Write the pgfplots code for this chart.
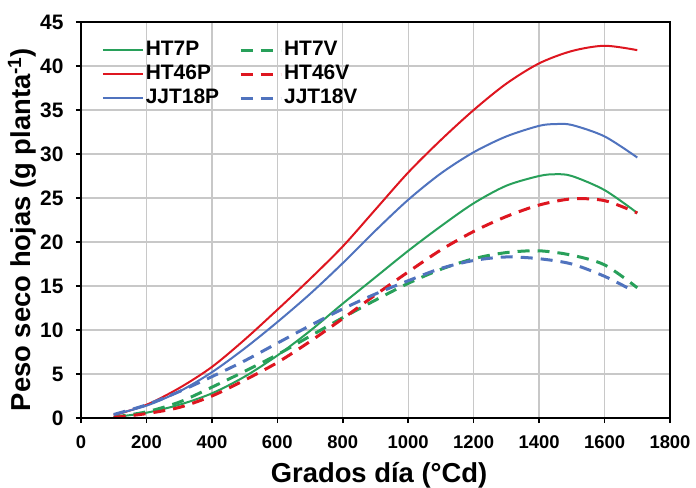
\documentclass[border=0pt]{standalone}
\usepackage{pgfplots}
\pgfplotsset{compat=1.18}
\usepackage{fontspec}
\setmainfont{Liberation Sans}
\definecolor{cgreen}{RGB}{40,160,90}
\definecolor{cred}{RGB}{222,22,32}
\definecolor{cblue}{RGB}{80,115,190}
\definecolor{cgrid}{RGB}{200,200,200}
\begin{document}
\begin{tikzpicture}
\path[use as bounding box] (-81bp,-70bp) rectangle (615bp,418bp);
\begin{axis}[
  at={(0,0)}, anchor=south west,
  scale only axis, width=589bp, height=396bp,
  xmin=0, xmax=1800, ymin=0, ymax=45,
  xtick={0,200,...,1800}, ytick={0,5,...,45},
  xmajorgrids=true, ymajorgrids=true,
  grid style={draw=cgrid, line width=1.3bp},
  axis lines=box,
  tick pos=left, tick align=outside, major tick length=5bp,
  tick style={black, line width=1.5bp},
  axis line style={draw=black, line width=1.6bp},
  /pgf/number format/assume math mode=true,
  /pgf/number format/set thousands separator={},
  xticklabel style={font=\fontsize{18.5}{20}\selectfont\bfseries, yshift=-9bp},
  yticklabel style={font=\fontsize{21}{22}\selectfont\bfseries, xshift=-9bp},
  xlabel={Grados día (°Cd)},
  ylabel={Peso seco hojas (g planta\textsuperscript{-1})},
  xlabel style={font=\fontsize{27.5}{29}\selectfont\bfseries, at={(axis description cs:0.506,0)}, anchor=base, yshift=-64bp},
  ylabel style={font=\fontsize{27.5}{29}\selectfont\bfseries, at={(axis description cs:-0.1002,0.476)}, anchor=center},
  legend columns=2,
  legend cell align=left,
  legend style={draw=none, fill=none, at={(axis description cs:0.03,0.965)}, anchor=north west,
    font=\fontsize{21}{22}\selectfont\bfseries,
    nodes={inner sep=2bp, text height=15bp, text depth=4bp}, row sep=1bp,
    /tikz/every even column/.style={column sep=18bp}},
  legend image code/.code={\draw[#1] (0bp,-0.5bp) -- (40bp,-0.5bp);},
]
\addplot[draw=cgreen, line width=2bp, smooth, tension=0.5] coordinates {
(100,0.1)(200,0.6)(300,1.5)(400,2.8)(500,4.7)(600,7.1)(700,9.9)(800,13.0)(900,16.0)(1000,19.0)(1100,21.8)(1200,24.4)(1300,26.4)(1400,27.5)(1450,27.7)(1500,27.5)(1600,25.9)(1700,23.3)};
\addlegendentry{HT7P}
\addplot[draw=cgreen, line width=3bp, dash pattern=on 12bp off 8bp, smooth, tension=0.5] coordinates {
(100,0.1)(200,0.7)(300,1.8)(400,3.5)(500,5.3)(600,7.2)(700,9.3)(800,11.4)(900,13.4)(1000,15.3)(1100,16.9)(1200,18.1)(1300,18.8)(1400,19.0)(1500,18.5)(1600,17.4)(1700,14.8)};
\addlegendentry{HT7V}
\addplot[draw=cred, line width=2bp, smooth, tension=0.5] coordinates {
(100,0.3)(200,1.5)(300,3.4)(400,5.8)(500,8.9)(600,12.3)(700,15.8)(800,19.5)(900,23.7)(1000,27.9)(1100,31.6)(1200,35.0)(1300,38.0)(1400,40.3)(1500,41.7)(1600,42.3)(1700,41.8)};
\addlegendentry{HT46P}
\addplot[draw=cred, line width=3bp, dash pattern=on 12bp off 8bp, smooth, tension=0.5] coordinates {
(100,0.05)(200,0.5)(300,1.2)(400,2.5)(500,4.3)(600,6.3)(700,8.7)(800,11.3)(900,14.0)(1000,16.6)(1100,19.1)(1200,21.2)(1300,22.9)(1400,24.2)(1500,24.9)(1600,24.7)(1700,23.3)};
\addlegendentry{HT46V}
\addplot[draw=cblue, line width=2bp, smooth, tension=0.5] coordinates {
(100,0.4)(200,1.4)(300,3.0)(400,5.2)(500,7.9)(600,10.9)(700,14.1)(800,17.6)(900,21.3)(1000,24.8)(1100,27.8)(1200,30.2)(1300,32.0)(1400,33.2)(1450,33.4)(1500,33.3)(1600,32.0)(1700,29.6)};
\addlegendentry{JJT18P}
\addplot[draw=cblue, line width=3bp, dash pattern=on 12bp off 8bp, smooth, tension=0.5] coordinates {
(100,0.4)(200,1.5)(300,3.0)(400,4.7)(500,6.5)(600,8.5)(700,10.5)(800,12.4)(900,14.1)(1000,15.6)(1100,17.0)(1200,17.9)(1300,18.3)(1400,18.1)(1500,17.5)(1600,16.1)(1680,14.6)};
\addlegendentry{JJT18V}
\end{axis}
\draw[black, line width=2.4bp] (0bp,396bp) -- (0bp,0bp) -- (589bp,0bp);
\draw[black, line width=1.5bp] (0bp,396bp) -- (589bp,396bp) -- (589bp,0bp);
\end{tikzpicture}
\end{document}
